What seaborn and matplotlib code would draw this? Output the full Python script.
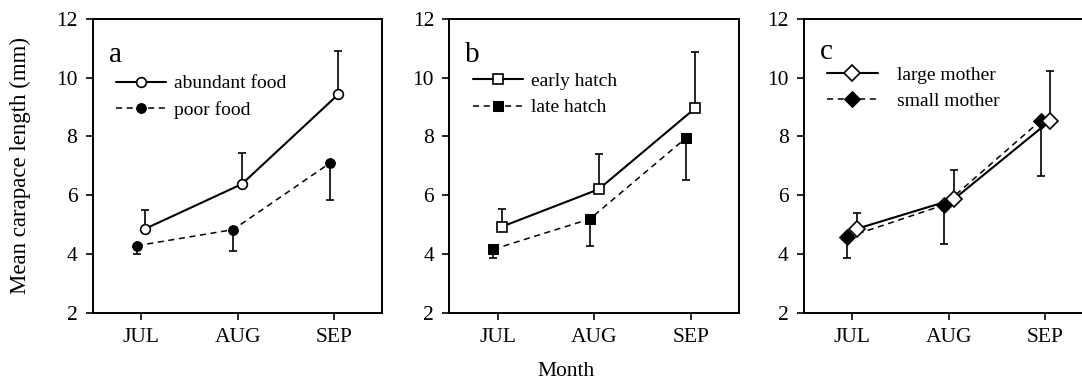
import numpy as np
import pandas as pd
import matplotlib
matplotlib.use("Agg")
import matplotlib.pyplot as plt
import seaborn as sns

# month categories
months = ["JUL", "AUG", "SEP"]

# panel a: food treatment
food_labels = ["abundant food", "poor food"]
abundant_mean = [4.86, 6.38, 9.44]
abundant_err = [0.63, 1.05, 1.47]
poor_mean = [4.28, 4.83, 7.09]
poor_err = [0.28, 0.72, 1.26]

# panel b: hatch timing
hatch_labels = ["early hatch", "late hatch"]
early_mean = [4.93, 6.20, 8.96]
early_err = [0.61, 1.20, 1.91]
late_mean = [4.16, 5.19, 7.96]
late_err = [0.31, 0.91, 1.45]

# panel c: mother size
mother_labels = ["large mother", "small mother"]
large_mean = [4.86, 5.86, 8.54]
large_err = [0.55, 0.99, 1.69]
small_mean = [4.57, 5.67, 8.54]
small_err = [0.70, 1.34, 1.88]

sns.set_theme(style="ticks")
plt.rcParams['font.family'] = ['Liberation Serif', 'DejaVu Serif']
plt.rcParams['axes.linewidth'] = 1.4
plt.rcParams['text.color'] = 'black'
plt.rcParams['axes.labelcolor'] = 'black'
plt.rcParams['xtick.color'] = 'black'
plt.rcParams['ytick.color'] = 'black'


def draw_panel(ax, letter, labels, open_mean, open_err, closed_mean, closed_err,
               marker, msize, dodge, leg_anchor, textpad, letter_y):
    xpos = np.arange(1, len(months) + 1)
    x_open = xpos + dodge
    x_closed = xpos - dodge

    # one-sided error bars: open series up, filled series down
    ax.errorbar(x_open, open_mean, yerr=[np.zeros(3), open_err], fmt="none",
                ecolor="black", elinewidth=1.2, capsize=3, capthick=1.2, zorder=1)
    ax.errorbar(x_closed, closed_mean, yerr=[closed_err, np.zeros(3)], fmt="none",
                ecolor="black", elinewidth=1.2, capsize=3, capthick=1.2, zorder=1)

    df_open = pd.DataFrame({"x": x_open, "y": open_mean})
    df_closed = pd.DataFrame({"x": x_closed, "y": closed_mean})
    sns.lineplot(data=df_open, x="x", y="y", ax=ax, color="black", lw=1.5,
                 marker=marker, markersize=msize, markerfacecolor="white",
                 markeredgecolor="black", markeredgewidth=1.2, label=labels[0],
                 errorbar=None, zorder=3)
    sns.lineplot(data=df_closed, x="x", y="y", ax=ax, color="black", lw=1.1,
                 linestyle=(0, (4, 3)), marker=marker, markersize=msize,
                 markerfacecolor="black", markeredgecolor="black",
                 label=labels[1], errorbar=None, zorder=2)

    ax.set_xlim(0.5, 3.5)
    ax.set_ylim(2, 12)
    ax.set_xticks(xpos)
    ax.set_xticklabels(months)
    ax.set_yticks(np.arange(2, 13, 2))
    ax.set_xlabel("")
    ax.set_ylabel("")
    ax.tick_params(direction="out", length=5, width=1.2, labelsize=15.5,
                   colors="black", pad=6)
    for sp in ax.spines.values():
        sp.set_color("black")
        sp.set_visible(True)

    ax.text(0.055, letter_y, letter, transform=ax.transAxes, fontsize=21,
            va="baseline", ha="left")
    ax.legend(loc="upper left", bbox_to_anchor=leg_anchor, frameon=False,
              fontsize=14, handlelength=2.6, labelspacing=0.45,
              handletextpad=textpad, borderaxespad=0, borderpad=0,
              labelcolor="black")


fig = plt.figure(figsize=(10.82, 3.85), dpi=100)
bottom, height, width = 0.1878, 0.7628, 0.2677
ax_a = fig.add_axes([0.0857, bottom, width, height])
ax_b = fig.add_axes([0.4153, bottom, width, height])
ax_c = fig.add_axes([0.7431, bottom, width, height])

draw_panel(ax_a, "a", food_labels, abundant_mean, abundant_err, poor_mean, poor_err,
           "o", 7, 0.045, (0.08, 0.81), 0.4, 0.855)
draw_panel(ax_b, "b", hatch_labels, early_mean, early_err, late_mean, late_err,
           "s", 7, 0.045, (0.08, 0.818), 0.4, 0.855)
draw_panel(ax_c, "c", mother_labels, large_mean, large_err, small_mean, small_err,
           "D", 8, 0.05, (0.08, 0.84), 1.0, 0.865)

ax_a.set_ylabel("Mean carapace length (mm)", fontsize=16.5, labelpad=18)
fig.text(0.523, 0.01, "Month", ha="center", va="bottom", fontsize=15.5)

fig.savefig("out.png", dpi=100)
